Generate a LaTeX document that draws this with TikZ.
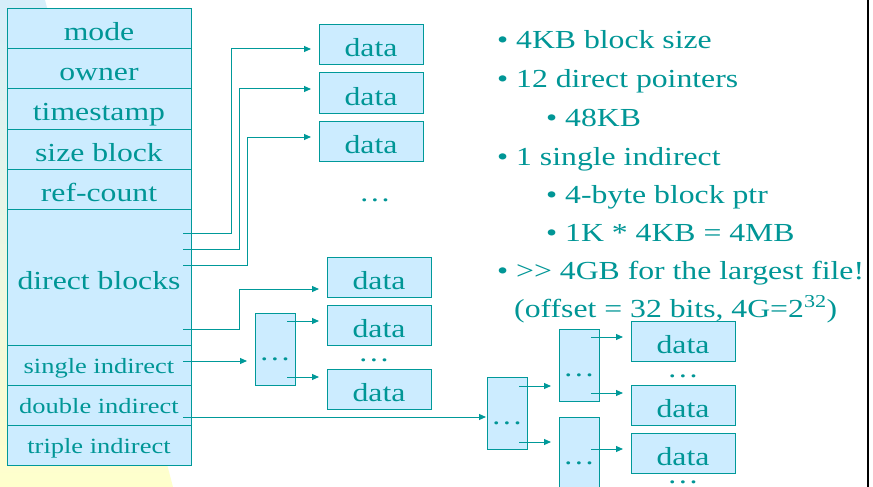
\documentclass[tikz,border=0pt]{standalone}
\usepackage{fontspec}
\setmainfont{Liberation Serif}[FakeStretch=1.22]
\usetikzlibrary{arrows.meta,positioning}
\definecolor{inktxt}{RGB}{0,150,150}
\definecolor{inkline}{RGB}{0,153,153}
\definecolor{cellfill}{RGB}{204,236,255}
\definecolor{bgblue}{RGB}{214,238,250}
\definecolor{bgyellow}{RGB}{255,255,204}
\tikzset{
    field/.style={
        draw=inkline,
        fill=cellfill,
        line width=1pt,
        outer sep=0pt,
        inner sep=0pt,
        minimum width=184pt,
        minimum height=40pt,
        text=inktxt,
        font=\fontsize{26}{31}\selectfont,
        text height=24pt,
        text depth=0pt
    },
    smallfield/.style={field, font=\fontsize{21.7}{26}\selectfont, text height=16pt},
    datablock/.style={field, minimum width=104pt},
    ptrblock/.style={field, minimum width=40pt, minimum height=72pt, text height=22pt},
    ptr/.style={-{Triangle[length=7pt,width=6pt]}, draw=inkline, line width=1pt},
    ellip/.style={text=inktxt, font=\fontsize{26}{31}\selectfont, inner sep=0pt, text height=3pt, text depth=0pt},
    bullet/.style={text=inktxt, font=\fontsize{26}{31}\selectfont, anchor=base west, inner sep=0pt}
}

\begin{document}
\begin{tikzpicture}[x=1pt,y=-1pt]
    \useasboundingbox (0,0) rectangle (873,487);
    \clip (0,0) rectangle (873,487);
    \fill[white] (0,0) rectangle (873,487);
    \shade[top color=bgblue, bottom color=bgyellow] (0,0) -- (45,0) -- (173,487) -- (0,487) -- cycle;

    % inode
    \node[field] (mode) at (99,29) {mode};
    \node[field, below=0pt of mode] (owner) {owner};
    \node[field, below=0pt of owner] (stamp) {timestamp};
    \node[field, below=0pt of stamp] (size) {size block};
    \node[field, below=0pt of size] (refc) {ref-count};
    \node[field, below=0pt of refc, minimum height=136pt] (direct) {direct blocks};
    \node[smallfield, below=0pt of direct] (single) {single indirect};
    \node[smallfield, below=0pt of single] (double) {double indirect};
    \node[smallfield, below=0pt of double] (triple) {triple indirect};

    % direct data blocks
    \node[datablock] (dA1) at (371,45) {data};
    \node[datablock, below=8pt of dA1] (dA2) {data};
    \node[datablock, below=8pt of dA2] (dA3) {data};
    \node[ellip] (moreA) at (375,200) {…};

    % single indirect
    \node[ptrblock] (I1) at (275,349) {…};
    \node[datablock] (dB1) at (379,277) {data};
    \node[datablock, below=8pt of dB1] (dB2) {data};
    \node[ellip] (moreB) at (374,360) {…};
    \node[datablock, below=24pt of dB2] (dB3) {data};

    % double indirect
    \node[ptrblock] (D1) at (507,413) {…};
    \node[ptrblock] (D2a) at (579,365) {…};
    \node[ptrblock, below=16pt of D2a] (D2b) {…};
    \node[datablock] (dC1) at (683,341) {data};
    \node[ellip] (moreC) at (683,376) {…};
    \node[datablock, below=24pt of dC1] (dC2) {data};
    \node[datablock, below=8pt of dC2] (dC3) {data};
    \node[ellip] (moreD) at (683,482) {…};

    \draw[ptr] ([shift={(-8,24)}]direct.north east) -- ++(48,0) |- ([shift={(-8,4)}]dA1.west);
    \draw[ptr] ([shift={(-8,40)}]direct.north east) -- ++(56,0) |- ([shift={(-8,-4)}]dA2.west);
    \draw[ptr] ([shift={(-8,56)}]direct.north east) -- ++(64,0) |- ([shift={(-8,-4)}]dA3.west);
    \draw[ptr] ([shift={(-8,-16)}]direct.south east) -- ++(56,0) |- ([shift={(-8,12)}]dB1.west);
    \draw[ptr] ([shift={(-8,-4)}]single.east) -- ([shift={(-8,12)}]I1.west);
    \draw[ptr] ([shift={(-8,8)}]I1.north east) -- ([shift={(-8,-4)}]dB2.west);
    \draw[ptr] ([shift={(-8,-8)}]I1.south east) -- ([shift={(-8,-12)}]dB3.west);
    \draw[ptr] ([shift={(-8,12)}]double.east) -- ([shift={(-1,4)}]D1.west);
    \draw[ptr] ([shift={(-8,9)}]D1.north east) -- ([shift={(-8,21)}]D2a.west);
    \draw[ptr] ([shift={(-8,-7)}]D1.south east) -- ([shift={(-8,-11)}]D2b.west);
    \draw[ptr] ([shift={(-8,8)}]D2a.north east) -- ([shift={(-8,-4)}]dC1.west);
    \draw[ptr] ([shift={(-8,-8)}]D2a.south east) -- ([shift={(-8,-12)}]dC2.west);
    \draw[ptr] ([shift={(-8,32)}]D2b.north east) -- ([shift={(-8,-4)}]dC3.west);

    % notes
    \node[bullet] (b1) at (497,49) {• 4KB block size};
    \node[bullet] (b2) at (497,88) {• 12 direct pointers};
    \node[bullet] (b3) at (546,126) {• 48KB};
    \node[bullet] (b4) at (497,165) {• 1 single indirect};
    \node[bullet] (b5) at (546,203) {• 4-byte block ptr};
    \node[bullet] (b6) at (546,241) {• 1K * 4KB = 4MB};
    \node[bullet] (b7) at (497,279) {• >{}> 4GB for the largest file!};
    \node[bullet] (b8) at (514,317) {(offset = 32 bits, 4G=2\textsuperscript{32})};

    \draw[line width=2pt] (868,0) -- (868,487);
\end{tikzpicture}
\end{document}
